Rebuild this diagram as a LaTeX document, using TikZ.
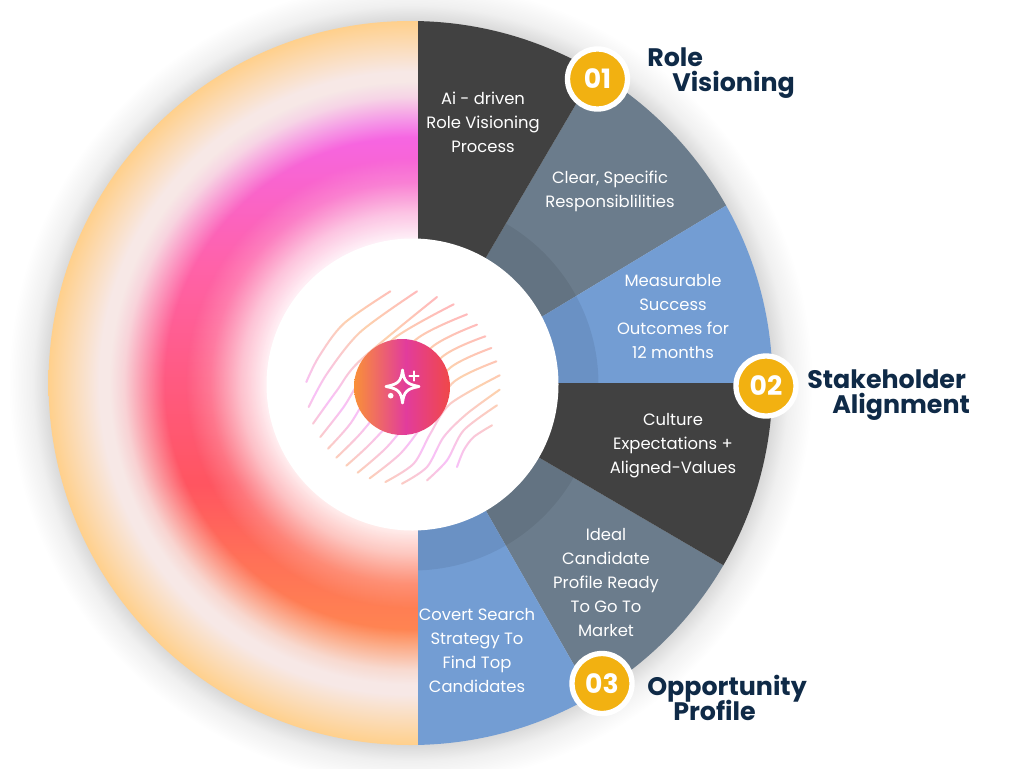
\documentclass[tikz,border=0pt]{standalone}
\usepackage{fontspec}
\setmainfont{Poppins}
\usetikzlibrary{fadings}
\normallineskiplimit=-10pt
\lineskiplimit=-10pt
\definecolor{seg_dark}{HTML}{414141}
\definecolor{seg_gray}{HTML}{6B7C8C}
\definecolor{seg_blue}{HTML}{739DD3}
\definecolor{badge_gold}{HTML}{F2B111}
\definecolor{label_navy}{HTML}{0F2A47}
\definecolor{wash_magenta}{HTML}{F566E8}
\definecolor{wash_pink}{HTML}{FF62A8}
\definecolor{wash_rose}{HTML}{FF5A80}
\definecolor{wash_red}{HTML}{FF5560}
\definecolor{wash_coral}{HTML}{FF7058}
\definecolor{wash_orange}{HTML}{FF8850}
\definecolor{base_pale}{HTML}{F7E8E6}
\definecolor{base_peach}{HTML}{FFD08C}
\definecolor{wave_lav}{HTML}{F7B6F7}
\definecolor{wave_peach}{HTML}{FDC9A0}
\definecolor{wave_pink}{HTML}{FFAFB0}
\definecolor{core_orange}{HTML}{F99038}
\definecolor{core_magenta}{HTML}{E23C9C}
\definecolor{core_red}{HTML}{F04848}
\pgfdeclareverticalshading{halfwash}{100bp}{color(0bp)=(wash_orange); color(32bp)=(wash_orange); color(38bp)=(wash_coral); color(43bp)=(wash_red); color(50bp)=(wash_rose); color(58bp)=(wash_pink); color(68bp)=(wash_magenta); color(100bp)=(wash_magenta)}
\pgfdeclareradialshading{halfbase}{\pgfpoint{0bp}{0bp}}{color(0bp)=(white); color(10bp)=(white); color(17bp)=(base_pale); color(21.5bp)=(base_pale); color(25bp)=(base_peach); color(50bp)=(base_peach)}
\pgfdeclareradialshading{discglow}{\pgfpoint{0bp}{0bp}}{color(0bp)=(black!15); color(22.5bp)=(black!15); color(23.5bp)=(black!6); color(25bp)=(white); color(50bp)=(white)}
\pgfdeclareradialshading{ringshade}{\pgfpoint{0bp}{0bp}}{color(0bp)=(pgftransparent!90); color(10bp)=(pgftransparent!90); color(11.7bp)=(pgftransparent!65); color(13.8bp)=(pgftransparent!20); color(15.5bp)=(pgftransparent!0); color(16.9bp)=(pgftransparent!0); color(19.7bp)=(pgftransparent!85); color(20.7bp)=(pgftransparent!100); color(50bp)=(pgftransparent!100)}
\pgfdeclarefading{ringmask}{\pgfuseshading{ringshade}}
\pgfdeclareverticalshading{wavewash}{100bp}{color(0bp)=(wave_peach); color(25bp)=(wave_peach); color(39bp)=(wave_lav); color(59bp)=(wave_peach); color(72bp)=(wave_pink); color(100bp)=(wave_pink)}
\pgfdeclarehorizontalshading{corewash}{100bp}{color(0bp)=(core_orange); color(25bp)=(core_orange); color(52bp)=(core_magenta); color(75bp)=(core_red); color(100bp)=(core_red)}
\tikzset{
  segtext/.style = {text = white, align = center, font = \fontsize{12.3}{18}\selectfont},
  badge/.style = {circle, draw = white, line width = 4pt, fill = badge_gold, text = white, minimum size = 45pt, inner sep = 0pt, font = \fontsize{20}{20}\selectfont\bfseries},
  heading/.style = {text = label_navy, align = left, anchor = north west, inner sep = 0pt, font = \fontsize{19}{18.8}\selectfont\bfseries},
  waveline/.style = {transparent!15, line width = 1.5pt, line cap = round}
}
\begin{tikzfadingfrompicture}[name=wavemask, x=.25pt, y=-.25pt]
\path (-320,-320) rectangle (320,320);
\begin{scope}[shift={(-425,-470)}]
\draw[waveline] plot[smooth] coordinates {(138,455) (175,380) (250,280) (390,183)};
\draw[waveline] plot[smooth] coordinates {(145,530) (200,430) (300,305) (470,183)};
\draw[waveline] plot[smooth] coordinates {(158,580) (230,480) (300,390) (530,200)};
\draw[waveline] plot[smooth] coordinates {(180,620) (250,530) (300,450) (400,325) (580,222)};
\draw[waveline] plot[smooth] coordinates {(203,655) (270,580) (340,470) (470,325) (620,252)};
\draw[waveline] plot[smooth] coordinates {(228,682) (300,610) (390,500) (515,350) (650,283)};
\draw[waveline] plot[smooth] coordinates {(258,706) (330,640) (430,530) (545,380) (675,318)};
\draw[waveline] plot[smooth] coordinates {(292,727) (380,650) (470,540) (570,412) (693,353)};
\draw[waveline] plot[smooth] coordinates {(328,744) (420,670) (490,580) (580,455) (708,393)};
\draw[waveline] plot[smooth] coordinates {(375,755) (460,700) (510,610) (570,520) (718,435)};
\draw[waveline] plot[smooth] coordinates {(425,760) (500,710) (550,620) (620,550) (718,478)};
\draw[waveline] plot[smooth] coordinates {(500,750) (560,690) (610,600) (710,525)};
\draw[waveline] plot[smooth] coordinates {(590,710) (610,660) (640,620) (695,585)};
\end{scope}
\end{tikzfadingfrompicture}
\begin{document}
\begin{tikzpicture}[x=.75pt, y=-.75pt]
\useasboundingbox (0,0) rectangle (1024,768);
\coordinate (hub) at (410.5,383);
\shade[shading=discglow] (hub) circle (402);
% left half of the wheel
\begin{scope}
\clip (0,0) rectangle (418,768);
\shade[shading=halfbase] (hub) circle (362);
\shade[shading=halfwash, path fading=ringmask] (hub) circle (362);
\end{scope}
% segments on the right
\begin{scope}
\clip (hub) circle (362);
\fill[seg_gray] (461,300) -- (637,0) -- (800,0) -- (800,161) -- (480,354) -- cycle;
\fill[seg_blue] (480,354) -- (800,161) -- (800,383) -- (450,383) -- cycle;
\fill[seg_gray] (480,423) -- (800,610) -- (800,800) -- (651,800) -- (457,460) -- cycle;
\fill[seg_blue] (457,460) -- (651,800) -- (418,800) -- (418,383) -- (450,383) -- cycle;
\begin{scope}
\clip (418,0) rectangle (800,768);
\fill[black, opacity=.07] (412.5,384.5) circle (186);
\end{scope}
\fill[seg_dark] (418,383) -- (418,0) -- (637,0) -- (461,300) -- cycle;
\fill[seg_dark] (450,383) -- (800,383) -- (800,610) -- (480,423) -- cycle;
\end{scope}
\fill[white] (412.5,384.5) circle (146);
\shade[shading=wavewash, shading angle=-27, path fading=wavemask, fit fading=false, fading transform={shift={(402,387)}}] (402,387) circle (104);
% middle icon
\shade[shading=corewash] (402,387) circle (48);
\draw[white, line width=2.1pt, line join=round] (402.5,370) .. controls (404,381) and (406,384) .. (419,386.5) .. controls (406,389) and (404,392) .. (402.5,403) .. controls (401,392) and (399,389) .. (386,386.5) .. controls (399,384) and (401,381) .. (402.5,370) -- cycle;
\draw[white, line width=1.7pt, line cap=round] (414,371.5) -- (414,380.5);
\draw[white, line width=1.7pt, line cap=round] (409.5,376) -- (418.5,376);
\fill[white] (390.7,395.7) circle (2.8);
% segment texts
\node (aidriven) [segtext] at (483,122) {Ai - driven\\Role Visioning\\Process};
\node (clear) [segtext] at (610,191.5) {Clear, Specific\\Responsiblilities};
\node (measure) [segtext] at (673,316) {Measurable\\Success\\Outcomes for\\12 months};
\node (culture) [segtext] at (673,446) {Culture\\Expectations +\\Aligned-Values};
\node (ideal) [segtext] at (606,582.5) {Ideal\\Candidate\\Profile Ready\\To Go To\\Market};
\node (covert) [segtext] at (477,650) {Covert Search\\Strategy To\\Find Top\\Candidates};
% badges and headings
\node (one) [badge] at (597.5,79) {01};
\node (two) [badge] at (766,386) {02};
\node (three) [badge] at (602,683.5) {03};
\node (rolehead) [heading] at (647,47.5) {Role\\\hspace*{18.75pt}Visioning};
\node (stakehead) [heading] at (807,369.5) {Stakeholder\\\hspace*{18.75pt}Alignment};
\node (opphead) [heading] at (647,675) {Opportunity\\\hspace*{19.5pt}Profile};
\end{tikzpicture}
\end{document}
